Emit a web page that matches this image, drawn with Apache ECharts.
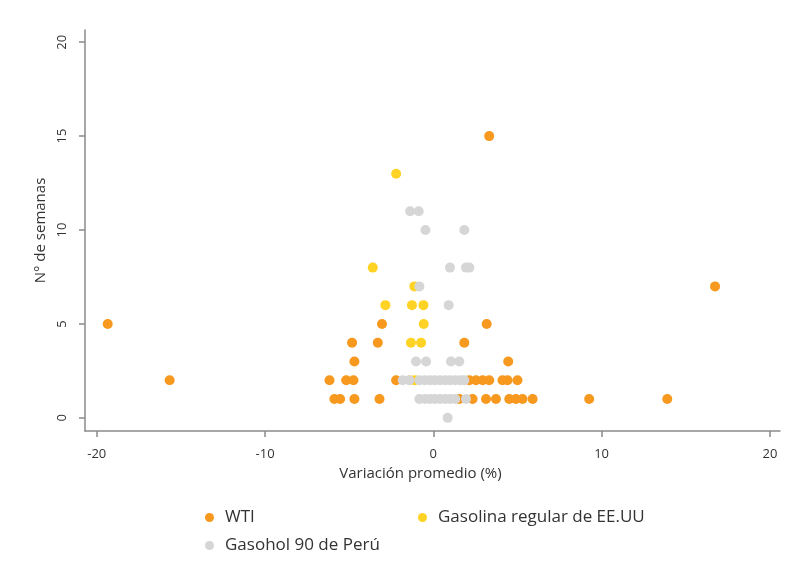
<!DOCTYPE html>
<html>
<head>
<meta charset="utf-8">
<script src="https://cdn.jsdelivr.net/npm/echarts@6/dist/echarts.min.js"></script>
<style>
  html, body { margin: 0; padding: 0; background: #fff; }
  #chart { width: 788px; height: 582px; }
</style>
</head>
<body>
<div id="chart"></div>
<script>
// series names
const seriesNames = ['WTI', 'Gasolina regular de EE.UU', 'Gasohol 90 de Perú']
const seriesColors = ['#F7981F', '#FFD226', '#D6D6D6']

// WTI: variación promedio (%) / n° de semanas
const wtiX = [3.32, 16.74, -19.35, -3.05, 3.17, -4.83, -3.3, 1.84, -4.69, 4.45,
  -15.67, -6.17, -5.18, -4.75, -2.21, 2.14, 2.53, 2.93, 3.32, 4.11, 4.41, 5.0,
  -5.88, -5.54, -4.69, -3.2, 1.54, 2.33, 3.13, 3.72, 4.51, 4.9, 5.3, 5.9, 9.26, 13.9]
const wtiY = [15, 7, 5, 5, 5, 4, 4, 4, 3, 3,
  2, 2, 2, 2, 2, 2, 2, 2, 2, 2, 2, 2,
  1, 1, 1, 1, 1, 1, 1, 1, 1, 1, 1, 1, 1, 1]

// Gasolina regular de EE.UU
const gasX = [-2.21, -3.6, -1.13, -2.85, -1.27, -0.59, -0.57, -1.33, -0.73, -1.4, -1.1]
const gasY = [13, 8, 7, 6, 6, 6, 5, 4, 4, 2, 2]

// Gasohol 90 de Perú
const gshX = [-1.38, -0.87, -0.47, 1.84, 0.99, 1.94, 2.14, -0.83, 0.91,
  -1.03, -0.43, 1.05, 1.54,
  -1.82, -1.42, -0.83, -0.5, -0.2, 0.1, 0.4, 0.7, 1.0, 1.3, 1.6, 1.84,
  -0.83, -0.5, -0.2, 0.1, 0.4, 0.7, 1.0, 1.3, 1.94, 0.85]
const gshY = [11, 11, 10, 10, 8, 8, 8, 7, 6,
  3, 3, 3, 3,
  2, 2, 2, 2, 2, 2, 2, 2, 2, 2, 2, 2,
  1, 1, 1, 1, 1, 1, 1, 1, 1, 0]

// tick labels
const xTicks = [-20, -10, 0, 10, 20]
const yTicks = [0, 5, 10, 15, 20]

const font = 'Open Sans'
const chart = echarts.init(document.getElementById('chart'))

function zip(xs, ys) {
  return xs.map((x, i) => [x, ys[i]])
}

const allX = [wtiX, gasX, gshX]
const allY = [wtiY, gasY, gshY]

const legendItem = (name, left, top) => ({
  data: [name],
  left: left,
  top: top,
  icon: 'circle',
  itemWidth: 9,
  itemHeight: 9,
  itemGap: 0,
  textStyle: { fontFamily: font, fontSize: 17, color: '#333', padding: [0, 0, 0, 6] },
})

chart.setOption({
  animation: false,
  backgroundColor: '#fff',
  grid: { left: 85, right: 8, top: 30, bottom: 151 },
  xAxis: {
    type: 'value',
    min: -20.7,
    max: 20.6,
    name: 'Variación promedio (%)',
    nameLocation: 'middle',
    nameGap: 34,
    nameTextStyle: { fontFamily: font, fontSize: 15, color: '#333', padding: [0, 24, 0, 0] },
    splitLine: { show: false },
    axisLine: { show: true, onZero: false, lineStyle: { color: '#8a8a8a', width: 1.5 } },
    axisTick: { show: true, length: 6, customValues: xTicks, lineStyle: { color: '#8a8a8a', width: 1.5 } },
    axisLabel: { customValues: xTicks, margin: 17, fontFamily: font, fontSize: 13, color: '#333' },
  },
  yAxis: {
    type: 'value',
    min: -0.7,
    max: 20.65,
    name: 'N° de semanas',
    nameLocation: 'middle',
    nameGap: 37,
    nameRotate: 90,
    nameTextStyle: { fontFamily: font, fontSize: 15, color: '#333' },
    splitLine: { show: false },
    axisLine: { show: true, onZero: false, lineStyle: { color: '#8a8a8a', width: 1.5 } },
    axisTick: { show: true, length: 6, customValues: yTicks, lineStyle: { color: '#8a8a8a', width: 1.5 } },
    axisLabel: { customValues: yTicks, rotate: 90, margin: 16, fontFamily: font, fontSize: 13, color: '#333' },
  },
  legend: [
    legendItem(seriesNames[0], 200, 504),
    legendItem(seriesNames[1], 413, 504),
    legendItem(seriesNames[2], 200, 532),
  ],
  series: seriesNames.map((name, i) => ({
    name: name,
    type: 'scatter',
    symbol: 'circle',
    symbolSize: 10,
    itemStyle: { color: seriesColors[i], opacity: 1 },
    data: zip(allX[i], allY[i]),
  })),
})
</script>
</body>
</html>
